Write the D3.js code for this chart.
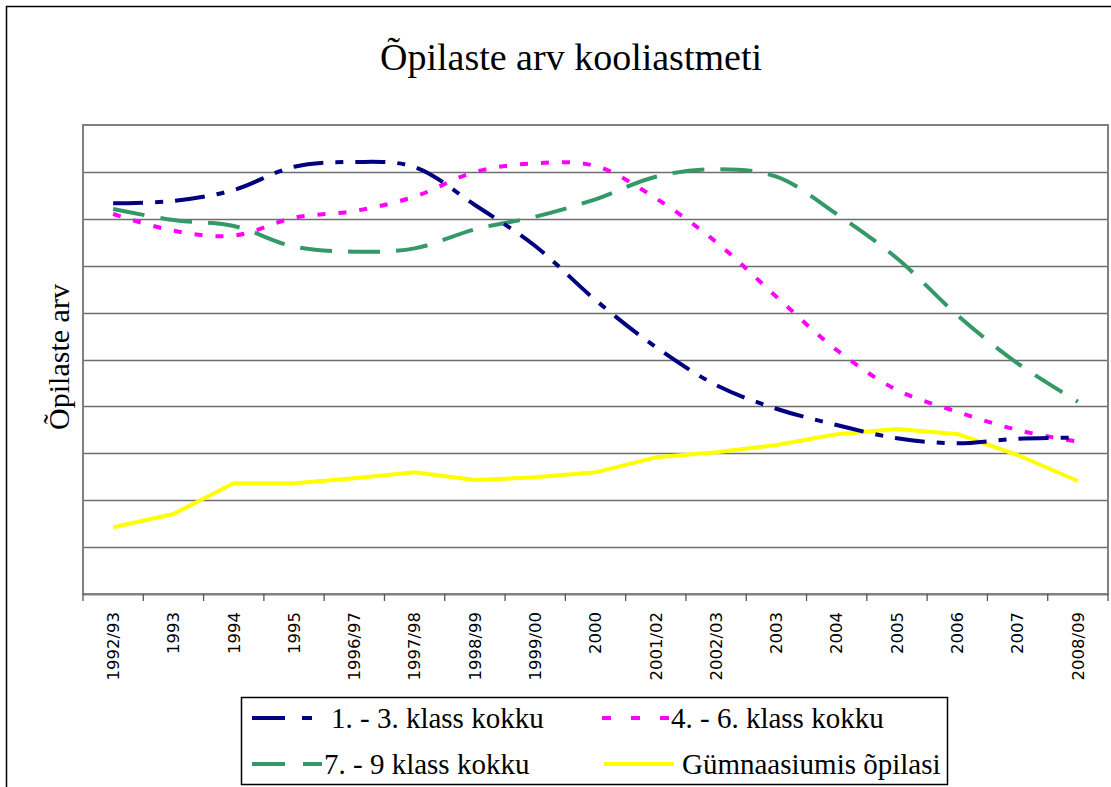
<!DOCTYPE html>
<meta charset="utf-8">
<style>
body { margin: 0; background: white; }
svg { display: block; }
</style>
<body>
<script src="https://d3js.org/d3.v7.min.js"></script>
<script>
var years = ['1992/93', '1993', '1994', '1995', '1996/97', '1997/98', '1998/99', '1999/00', '2000',
    '2001/02', '2002/03', '2003', '2004', '2005', '2006', '2007', '2008/09']

var klass13 = [41650, 41900, 43070, 45550, 46060, 45520, 41470, 37100, 31340, 26330, 22280, 19750, 18020, 16600, 16070, 16560, 16660]
var klass46 = [40510, 38730, 38200, 40120, 40830, 42360, 44990, 45920, 45630, 42190, 37530, 31700, 26010, 21750, 19430, 17480, 16240]
var klass79 = [41040, 39870, 39230, 37030, 36490, 36850, 38880, 40220, 42080, 44490, 45280, 44490, 40510, 35790, 29740, 24590, 20500]
var gymn = [7110, 8530, 11800, 11800, 12330, 12970, 12150, 12440, 12970, 14570, 15110, 15890, 17030, 17590, 17060, 14820, 12050]

var yTicks = [5000, 10000, 15000, 20000, 25000, 30000, 35000, 40000, 45000]

var series = [
    { name: '1. - 3. klass kokku', values: klass13, color: '#000080', dash: '30,12,8,12', smooth: true },
    { name: '4. - 6. klass kokku', values: klass46, color: '#ff00ff', dash: '8,13', smooth: true },
    { name: '7. - 9 klass kokku', values: klass79, color: '#339966', dash: '32,16', smooth: true },
    { name: 'Gümnaasiumis õpilasi', values: gymn, color: '#ffff00', dash: null, smooth: false }
]

var width = 1111
var height = 787
var plot = { left: 83, top: 125, right: 1108, bottom: 594 }

var svg = d3.select('body').append('svg')
    .attr('width', width)
    .attr('height', height)

// outer frame
svg.append('rect')
    .attr('x', 6.5).attr('y', 6.5)
    .attr('width', 1130).attr('height', 820)
    .attr('fill', 'white').attr('stroke', '#000').attr('stroke-width', 1.5)

svg.append('text')
    .attr('x', 571).attr('y', 70)
    .attr('text-anchor', 'middle')
    .style('font-family', '"Liberation Serif", "Times New Roman", serif')
    .style('font-size', '38px')
    .text('Õpilaste arv kooliastmeti')

svg.append('text')
    .attr('transform', 'translate(69,357) rotate(-90)')
    .attr('text-anchor', 'middle')
    .style('font-family', '"Liberation Serif", "Times New Roman", serif')
    .style('font-size', '30px')
    .text('Õpilaste arv')

var x = d3.scaleBand().domain(years).range([plot.left, plot.right])
var y = d3.scaleLinear().domain([0, 50000]).range([plot.bottom, plot.top])
var bw = x.bandwidth()

// gridlines
svg.append('g')
    .selectAll('line')
    .data(yTicks)
    .join('line')
    .attr('x1', plot.left).attr('x2', plot.right)
    .attr('y1', function (d) { return Math.round(y(d)) + 0.5 })
    .attr('y2', function (d) { return Math.round(y(d)) + 0.5 })
    .attr('stroke', '#6e6e6e').attr('stroke-width', 1.5)

// plot border
svg.append('rect')
    .attr('x', plot.left).attr('y', plot.top)
    .attr('width', plot.right - plot.left).attr('height', plot.bottom - plot.top)
    .attr('fill', 'none').attr('stroke', '#808080').attr('stroke-width', 2)

// x axis
var xAxis = svg.append('g')
    .attr('transform', 'translate(0,' + plot.bottom + ')')
    .call(d3.axisBottom(x).tickSize(7).tickSizeOuter(0))

xAxis.select('.domain').attr('stroke', '#808080').attr('stroke-width', 2)
xAxis.selectAll('.tick line')
    .attr('x1', -bw / 2).attr('x2', -bw / 2)
    .attr('stroke', '#555').attr('stroke-width', 1.3)
xAxis.append('line')
    .attr('x1', plot.right).attr('x2', plot.right)
    .attr('y1', 0).attr('y2', 7)
    .attr('stroke', '#555').attr('stroke-width', 1.3)
xAxis.selectAll('.tick text')
    .attr('transform', 'rotate(-90)')
    .attr('x', -18).attr('y', 0).attr('dy', '0.35em')
    .attr('text-anchor', 'end')
    .attr('fill', '#000')
    .style('font-family', '"DejaVu Sans", Verdana, sans-serif')
    .style('font-size', '16.5px')

var smoothLine = d3.line()
    .x(function (d, i) { return x(years[i]) + bw / 2 })
    .y(function (d) { return y(d) })
    .curve(d3.curveCatmullRom.alpha(0.5))

var straightLine = d3.line()
    .x(function (d, i) { return x(years[i]) + bw / 2 })
    .y(function (d) { return y(d) })

svg.append('g')
    .selectAll('path')
    .data(series.slice().reverse())
    .join('path')
    .attr('d', function (d) { return d.smooth ? smoothLine(d.values) : straightLine(d.values) })
    .attr('fill', 'none')
    .attr('stroke', function (d) { return d.color })
    .attr('stroke-width', 4)
    .attr('stroke-linejoin', 'round')
    .attr('stroke-dasharray', function (d) { return d.dash })

// legend
svg.append('rect')
    .attr('x', 241.5).attr('y', 697.5)
    .attr('width', 706).attr('height', 87)
    .attr('fill', 'white').attr('stroke', '#000').attr('stroke-width', 1.5)

var legendPos = [
    { x: 252, y: 718, tx: 331 },
    { x: 602, y: 718, tx: 671 },
    { x: 252, y: 764, tx: 324 },
    { x: 604, y: 764, tx: 682 }
]

var legend = svg.append('g')
    .selectAll('g')
    .data(series)
    .join('g')
    .attr('transform', function (d, i) { return 'translate(0,' + legendPos[i].y + ')' })

legend.append('line')
    .attr('x1', function (d, i) { return legendPos[i].x })
    .attr('x2', function (d, i) { return legendPos[i].x + 70 })
    .attr('stroke', function (d) { return d.color })
    .attr('stroke-width', 4)
    .attr('stroke-dasharray', function (d, i) { return i === 0 ? '33,17,10,20' : (i === 1 ? '9,20' : (i === 2 ? '33,18' : null)) })

legend.append('text')
    .attr('x', function (d, i) { return legendPos[i].tx })
    .attr('y', 10)
    .style('font-family', '"Liberation Serif", "Times New Roman", serif')
    .style('font-size', '29px')
    .text(function (d) { return d.name })
</script>
</body>
